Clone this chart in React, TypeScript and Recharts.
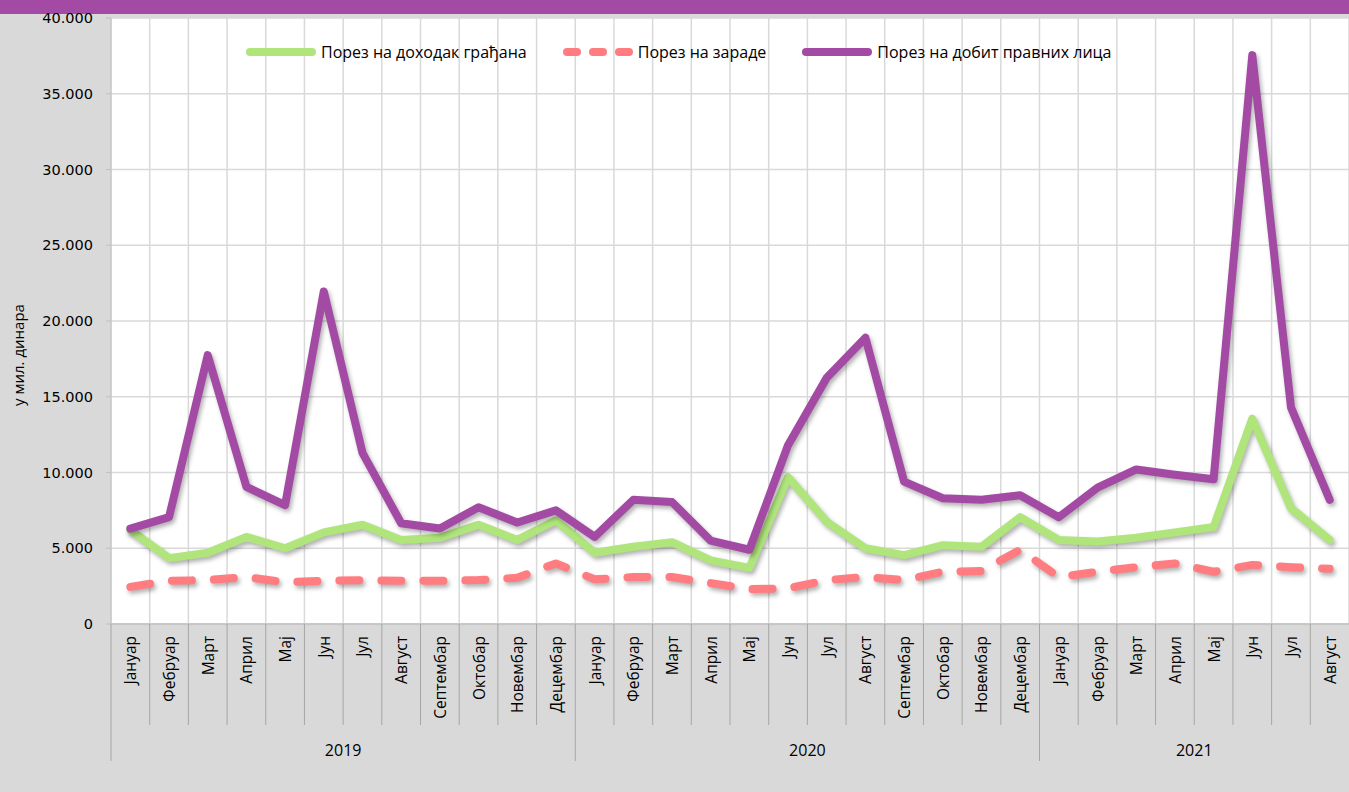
import React from "react";
import { LineChart, Line, XAxis, YAxis, CartesianGrid } from "recharts";

const W = 1349;
const H = 792;
const Y_AXIS_W = 111;
const X_AXIS_H = 168;
const TOP = 18;

const monthNames = ["Јануар", "Фебруар", "Март", "Април", "Мај", "Јун", "Јул", "Август", "Септембар", "Октобар", "Новембар", "Децембар"];
const years = ["2019", "2020", "2021"];
const monthsPerYear = [12, 12, 8];

// у мил. динара
const dohodak = [
  6200, 4350, 4700, 5750, 5000, 6050, 6550, 5550, 5700, 6550, 5550, 6850,
  4700, 5100, 5400, 4200, 3700, 9700, 6750, 5000, 4550, 5200, 5100, 7050,
  5550, 5450, 5700, 6050, 6400, 13550, 7650, 5550,
];
const zarade = [
  2450, 2850, 2900, 3100, 2750, 2850, 2900, 2850, 2850, 2900, 3050, 4000,
  2950, 3100, 3100, 2700, 2300, 2350, 2900, 3100, 2900, 3450, 3500, 4900,
  3100, 3450, 3750, 4000, 3450, 3900, 3750, 3650,
];
const dobit = [
  6300, 7050, 17750, 9050, 7850, 21950, 11300, 6650, 6300, 7700, 6700, 7500,
  5750, 8200, 8050, 5500, 4900, 11800, 16250, 18900, 9400, 8300, 8200, 8500,
  7050, 9000, 10200, 9850, 9550, 37550, 14300, 8200,
];
const yTicks = [0, 5000, 10000, 15000, 20000, 25000, 30000, 35000, 40000];

const GREEN = "#b0e57c";
const RED = "#ff7c80";
const PURPLE = "#a34aa4";
const SEP = "#a6a6a6";
const FONT = "'Open Sans', sans-serif";

const data: { label: string; year: string; m: number; count: number; dohodak: number; zarade: number; dobit: number }[] = [];
years.forEach((year, yi) => {
  for (let m = 0; m < monthsPerYear[yi]; m++) {
    const i = data.length;
    data.push({ label: monthNames[m], year, m, count: monthsPerYear[yi], dohodak: dohodak[i], zarade: zarade[i], dobit: dobit[i] });
  }
});

const BW = (W - Y_AXIS_W) / data.length;

function MonthTick(props: any) {
  const { x, y, payload } = props;
  const d = data[payload.index];
  if (!d) return null;
  const left = x - BW / 2;
  const ty = y + 12;
  return (
    <g>
      <line x1={left} y1={y} x2={left} y2={y + (d.m === 0 ? 137 : 101)} stroke={SEP} />
      <text
        x={x}
        y={ty}
        transform={`rotate(-90 ${x} ${ty})`}
        textAnchor="end"
        dominantBaseline="central"
        fontSize={15.5}
        fontFamily={FONT}
        fill="#000"
      >
        {payload.value}
      </text>
      {d.m === d.count / 2 && (
        <text x={left} y={y + 126} textAnchor="middle" dominantBaseline="central" fontSize={16} fontFamily={FONT} fill="#000">
          {d.year}
        </text>
      )}
    </g>
  );
}

function LegendSwatch({ color, dashed }: { color: string; dashed?: boolean }) {
  return (
    <svg width={72} height={10} style={{ display: "block" }}>
      <line
        x1={5}
        y1={5}
        x2={67}
        y2={5}
        stroke={color}
        strokeWidth={8}
        strokeLinecap="round"
        strokeDasharray={dashed ? "10 16" : undefined}
      />
    </svg>
  );
}

const legendItems = [
  { name: "Порез на доходак грађана", color: GREEN, dashed: false, gap: 35 },
  { name: "Порез на зараде", color: RED, dashed: true, gap: 35 },
  { name: "Порез на добит правних лица", color: PURPLE, dashed: false, gap: 0 },
];

export default function App() {
  return (
    <div style={{ position: "absolute", left: 0, top: 0, width: W, height: H, background: "#d9d9d9", overflow: "hidden" }}>
      <style>{`.recharts-line-curve { filter: drop-shadow(2px 3px 2px rgba(0,0,0,0.3)); }`}</style>
      <div style={{ position: "absolute", left: 0, top: 0, width: W, height: 14, background: PURPLE }} />
      <LineChart width={W} height={H} data={data} margin={{ top: TOP, right: 0, bottom: 0, left: 0 }}>
        <CartesianGrid
          fill="#fff"
          stroke="#d9d9d9"
          strokeWidth={1.5}
          verticalCoordinatesGenerator={({ offset }: any) =>
            Array.from({ length: data.length + 1 }, (_, i) => offset.left + (i * offset.width) / data.length)
          }
        />
        <XAxis
          dataKey="label"
          interval={0}
          height={X_AXIS_H}
          padding={{ left: BW / 2, right: BW / 2 }}
          tickSize={0}
          tickMargin={0}
          tick={<MonthTick />}
          axisLine={{ stroke: "#bfbfbf", strokeWidth: 1.5 }}
          tickLine={false}
        />
        <YAxis
          width={Y_AXIS_W}
          domain={[0, 40000]}
          ticks={yTicks}
          interval={0}
          tickSize={5}
          tickMargin={13}
          tickFormatter={(v: number) => (v === 0 ? "0" : (v / 1000).toFixed(3))}
          tick={{ fill: "#000", fontSize: 14.5, fontFamily: "'DejaVu Sans', sans-serif" }}
          axisLine={{ stroke: "#bfbfbf" }}
          tickLine={{ stroke: "#bfbfbf" }}
          label={{
            content: () => (
              <text
                x={18}
                y={355}
                transform="rotate(-90 18 355)"
                textAnchor="middle"
                dominantBaseline="central"
                fontSize={15}
                fontFamily={FONT}
                fill="#000"
              >
                у мил. динара
              </text>
            ),
          }}
        />
        <Line
          dataKey="dohodak"
          name="Порез на доходак грађана"
          stroke={GREEN}
          strokeWidth={8}
          strokeLinejoin="round"
          strokeLinecap="round"
          dot={false}
          isAnimationActive={false}
        />
        <Line
          dataKey="zarade"
          name="Порез на зараде"
          stroke={RED}
          strokeWidth={8}
          strokeDasharray="20 22"
          strokeLinejoin="round"
          strokeLinecap="round"
          dot={false}
          isAnimationActive={false}
        />
        <Line
          dataKey="dobit"
          name="Порез на добит правних лица"
          stroke={PURPLE}
          strokeWidth={8}
          strokeLinejoin="round"
          strokeLinecap="round"
          dot={false}
          isAnimationActive={false}
        />
      </LineChart>
      <div style={{ position: "absolute", left: 245, top: 41, display: "flex", alignItems: "center", fontFamily: FONT, fontSize: 16, color: "#000" }}>
        {legendItems.map((it) => (
          <div key={it.name} style={{ display: "flex", alignItems: "center", marginRight: it.gap }}>
            <LegendSwatch color={it.color} dashed={it.dashed} />
            <span style={{ marginLeft: 4, whiteSpace: "nowrap" }}>{it.name}</span>
          </div>
        ))}
      </div>
    </div>
  );
}
